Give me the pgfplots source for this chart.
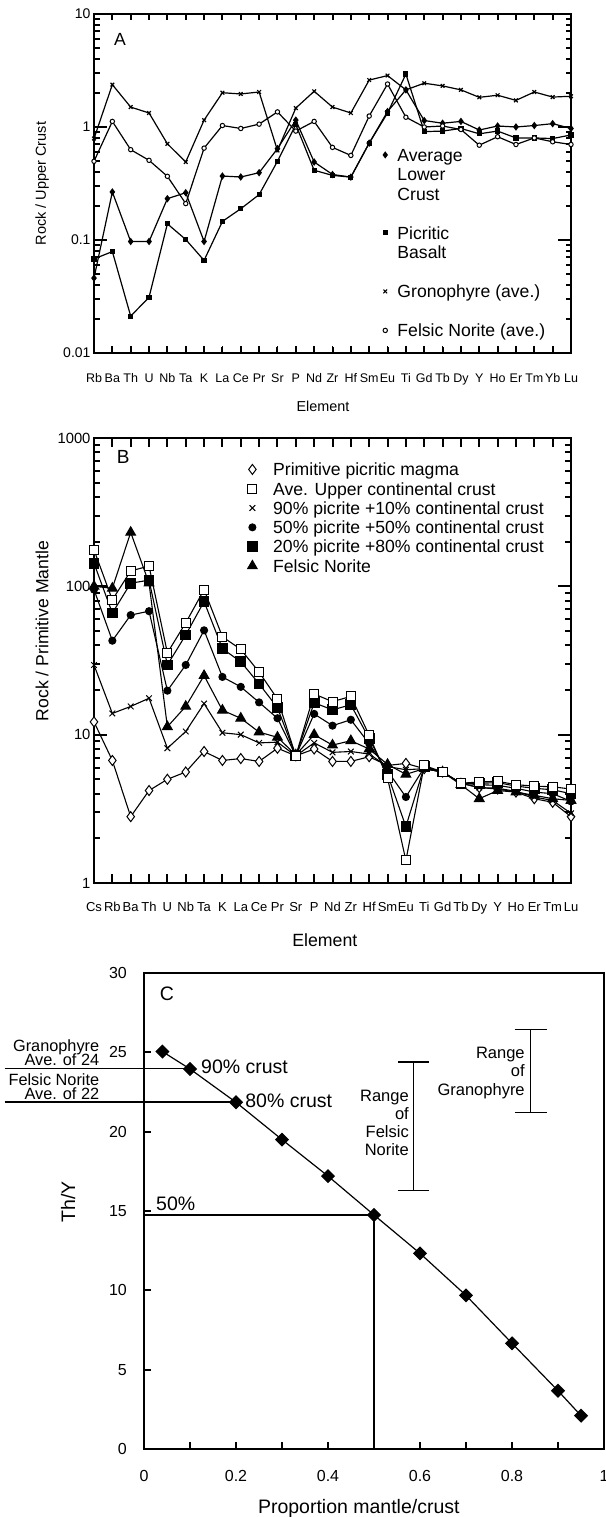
\documentclass[border=0pt]{standalone}
\usepackage{fontspec}
\setmainfont{Liberation Sans}
\usepackage{pgfplots}
\usepackage{pgfplotstable}
\pgfplotsset{compat=1.18}
\newcommand{\fs}[1]{\fontsize{#1}{#1}\selectfont}

\pgfplotstableread{
i lc pb gr fn
0 0.046 0.068 0.79 0.497
1 0.266 0.079 2.37 1.12
2 0.097 0.0212 1.50 0.63
3 0.097 0.0311 1.33 0.507
4 0.232 0.139 0.71 0.366
5 0.262 0.101 0.49 0.21
6 0.097 0.066 1.15 0.65
7 0.368 0.146 2.01 1.03
8 0.361 0.189 1.96 0.97
9 0.394 0.252 2.04 1.06
10 0.643 0.497 0.62 1.36
11 1.15 1.05 1.47 0.92
12 0.49 0.414 2.07 1.12
13 0.38 0.373 1.50 0.66
14 0.36 0.36 1.33 0.56
15 0.72 0.72 2.60 1.25
16 1.37 1.33 2.85 2.40
17 2.13 2.94 2.13 1.22
18 1.14 0.91 2.44 1.00
19 1.08 0.92 2.31 1.02
20 1.12 0.97 2.13 0.95
21 0.94 0.87 1.83 0.69
22 1.02 0.92 1.91 0.82
23 1.00 0.80 1.72 0.70
24 1.03 0.80 2.04 0.80
25 1.07 0.79 1.84 0.74
26 0.97 0.85 1.87 0.70
}\dataA

\pgfplotstableread{
i pic ucc m90 m50 m80 fn
0 12.2 176 29.5 95 143 100
1 6.7 81 13.9 43 66 97
2 2.8 127 15.5 64 105 231
3 4.2 137 17.6 68 110 105
4 5.0 35.6 8.1 19.8 29.5 11.3
5 5.6 56.7 10.5 29.5 47 15.5
6 7.7 95 16.2 50.5 79 25
7 6.7 45.7 10.3 24.5 38 14.6
8 6.9 37.6 10.0 21 31 12.9
9 6.6 26.4 8.8 16.5 22 10.4
10 8.1 17.4 8.9 12.9 15.2 9.6
11 7.2 7.2 7.2 7.2 7.2 7.3
12 8.0 18.8 8.8 13.8 16.4 10.0
13 6.6 16.7 7.6 11.5 14.7 8.5
14 6.6 18.1 7.7 12.6 15.9 9.1
15 7.1 9.9 7.4 8.7 9.4 8.0
16 6.2 5.1 6.1 5.7 5.4 6.3
17 6.4 1.42 5.8 3.8 2.4 5.4
18 5.9 6.2 5.9 6.0 6.1 5.9
19 5.6 5.6 5.6 5.6 5.6 5.6
20 4.7 4.7 4.7 4.7 4.7 4.6
21 4.4 4.8 4.4 4.6 4.7 3.7
22 4.3 4.85 4.35 4.55 4.75 4.2
23 4.1 4.6 4.15 4.35 4.5 4.1
24 3.7 4.5 3.8 4.1 4.35 3.9
25 3.5 4.45 3.6 4.0 4.25 3.7
26 2.8 4.3 2.95 3.55 4.0 3.6
}\dataB

\pgfplotstableread{
x y
0.04 25.05
0.1 23.95
0.2 21.85
0.3 19.5
0.4 17.2
0.5 14.75
0.6 12.33
0.7 9.68
0.8 6.66
0.9 3.67
0.95 2.1
}\dataC

\begin{document}
\begin{tikzpicture}
\useasboundingbox (0pt,0pt) rectangle (605pt,1517pt);

% ---------------- Panel A ----------------
\begin{axis}[
  at={(94pt,1164pt)}, anchor=south west,
  width=477pt, height=339pt, scale only axis,
  ymode=log, ymin=0.01, ymax=10, xmin=0, xmax=26, clip=false,
  xtick={0,...,26},
  xticklabels={Rb,Ba,Th,U,Nb,Ta,K,La,Ce,Pr,Sr,P,Nd,Zr,Hf,Sm,Eu,Ti,Gd,Tb,Dy,Y,Ho,Er,Tm,Yb,Lu},
  ytick={0.01,0.1,1,10}, yticklabels={0.01,0.1,1,10},
  minor ytick={0.02,0.03,0.04,0.05,0.06,0.07,0.08,0.09,0.2,0.3,0.4,0.5,0.6,0.7,0.8,0.9,2,3,4,5,6,7,8,9},
  tick align=inside,
  xtick style={/pgfplots/major tick length=6.5pt},
  ytick style={/pgfplots/major tick length=13pt},
  minor tick length=5.5pt,
  tick style={black, line width=2pt},
  xticklabel style={font=\fs{12.5}, anchor=base, yshift=-30pt},
  yticklabel style={font=\fs{14}},
  xlabel={Element}, xlabel style={font=\fs{14.4}, at={(rel axis cs:0.48,-0.156)}, anchor=center},
  ylabel={Rock / Upper Crust}, ylabel style={font=\fs{14.5}, at={(rel axis cs:-0.109,0.5)}, anchor=center},
  legend image code/.code={\draw[#1, only marks, line width=1pt] plot coordinates {(0cm,0cm)};},
  legend cell align=left,
  legend style={draw=none, fill=none, inner sep=0pt, outer sep=0pt, row sep=0pt,
    at={(0.606,0.613)}, anchor=north west,
    nodes={inner sep=0pt, font=\fs{17.6}, text height=16pt, text depth=3.5pt},
    /tikz/every odd column/.append style={column sep=10pt}},
]
\addplot[black, line width=1.6pt, line cap=rect, forget plot] coordinates {(0,0.01) (26,0.01) (26,10) (0,10) (0,0.01)};
\pgfplotsinvokeforeach{1,2,3,4,5,6,7,8,9,10,11,12,13,14,15,16,17,18,19,20,21,22,23,24,25}{
  \draw[black, line width=1.8pt] (axis cs:#1,0.01) -- ++(0pt,6.5pt);
  \draw[black, line width=1.8pt] (axis cs:#1,10) -- ++(0pt,-6.5pt);
}
\pgfplotsinvokeforeach{0.1,1}{
  \draw[black, line width=1.8pt] (axis cs:0,#1) -- ++(13pt,0pt);
  \draw[black, line width=1.8pt] (axis cs:26,#1) -- ++(-13pt,0pt);
}
\pgfplotsinvokeforeach{0.02,0.03,0.04,0.05,0.06,0.07,0.08,0.09,0.2,0.3,0.4,0.5,0.6,0.7,0.8,0.9,2,3,4,5,6,7,8,9}{
  \draw[black, line width=1.6pt] (axis cs:0,#1) -- ++(5.5pt,0pt);
  \draw[black, line width=1.6pt] (axis cs:26,#1) -- ++(-5.5pt,0pt);
}
\addplot[black, line width=1.2pt, mark=diamond*, mark size=2.8pt, mark options={solid}, forget plot] table[x=i,y=lc]{\dataA};
\addplot[black, line width=1.2pt, mark=square*, mark size=2pt, mark options={solid}, forget plot] table[x=i,y=pb]{\dataA};
\addplot[black, line width=1.2pt, mark=x, mark size=2.6pt, mark options={solid, line width=1.2pt}, forget plot] table[x=i,y=gr]{\dataA};
\addplot[black, line width=1.2pt, mark=*, mark size=2.2pt, mark options={solid, fill=white, line width=1pt}, forget plot] table[x=i,y=fn]{\dataA};
\node[font=\fs{17.6}] at (rel axis cs:0.0545,0.926) {A};
\addlegendimage{mark=diamond*, mark size=2.8pt}\addlegendentry{Average}
\addlegendimage{empty legend}\addlegendentry{Lower}
\addlegendimage{empty legend}\addlegendentry{Crust}
\addlegendimage{empty legend}\addlegendentry{~}
\addlegendimage{mark=square*, mark size=2pt}\addlegendentry{Picritic}
\addlegendimage{empty legend}\addlegendentry{Basalt}
\addlegendimage{empty legend}\addlegendentry{~}
\addlegendimage{mark=x, mark size=2.6pt}\addlegendentry{Gronophyre (ave.)}
\addlegendimage{empty legend}\addlegendentry{~}
\addlegendimage{mark=*, mark size=2.2pt, fill=white}\addlegendentry{Felsic Norite (ave.)}
\end{axis}

% ---------------- Panel B ----------------
\begin{axis}[
  at={(94pt,634pt)}, anchor=south west,
  width=477pt, height=445pt, scale only axis,
  ymode=log, ymin=1, ymax=1000, xmin=0, xmax=26, clip=false,
  xtick={0,...,26},
  xticklabels={Cs,Rb,Ba,Th,U,Nb,Ta,K,La,Ce,Pr,Sr,P,Nd,Zr,Hf,Sm,Eu,Ti,Gd,Tb,Dy,Y,Ho,Er,Tm,Lu},
  ytick={1,10,100,1000}, yticklabels={1,10,100,1000},
  minor ytick={2,3,4,5,6,7,8,9,20,30,40,50,60,70,80,90,200,300,400,500,600,700,800,900},
  tick align=inside,
  xtick style={/pgfplots/major tick length=9pt},
  ytick style={/pgfplots/major tick length=13pt},
  minor tick length=6pt,
  tick style={black, line width=2pt},
  xticklabel style={font=\fs{13}, anchor=base, yshift=-29pt},
  yticklabel style={font=\fs{14.8}},
  xlabel={Element}, xlabel style={font=\fs{17.7}, at={(rel axis cs:0.484,-0.128)}, anchor=center},
  ylabel={Rock / Primitive Mantle}, ylabel style={font=\fs{17.6}, at={(rel axis cs:-0.109,0.566)}, anchor=center},
  legend image code/.code={\draw[#1, only marks, line width=1pt] plot coordinates {(0cm,0cm)};},
  legend cell align=left,
  legend style={draw=none, fill=none, inner sep=0pt, outer sep=0pt, row sep=0pt,
    at={(0.322,0.951)}, anchor=north west,
    nodes={inner sep=0pt, font=\fs{17.6}, text height=15.95pt, text depth=3.35pt},
    /tikz/every odd column/.append style={column sep=16pt}},
]
\addplot[black, line width=1.6pt, line cap=rect, forget plot] coordinates {(0,1) (26,1) (26,1000) (0,1000) (0,1)};
\pgfplotsinvokeforeach{1,2,3,4,5,6,7,8,9,10,11,12,13,14,15,16,17,18,19,20,21,22,23,24,25}{
  \draw[black, line width=1.8pt] (axis cs:#1,1) -- ++(0pt,9pt);
  \draw[black, line width=1.8pt] (axis cs:#1,1000) -- ++(0pt,-8pt);
}
\pgfplotsinvokeforeach{10,100}{
  \draw[black, line width=1.8pt] (axis cs:0,#1) -- ++(13pt,0pt);
  \draw[black, line width=1.8pt] (axis cs:26,#1) -- ++(-13pt,0pt);
}
\pgfplotsinvokeforeach{2,3,4,5,6,7,8,9,20,30,40,50,60,70,80,90,200,300,400,500,600,700,800,900}{
  \draw[black, line width=1.6pt] (axis cs:0,#1) -- ++(6pt,0pt);
  \draw[black, line width=1.6pt] (axis cs:26,#1) -- ++(-6pt,0pt);
}
\addplot[black, line width=1.1pt, mark=diamond*, mark size=5pt, mark options={solid, fill=white, line width=1pt}, forget plot] table[x=i,y=pic]{\dataB};
\addplot[black, line width=1.1pt, mark=x, mark size=4pt, mark options={solid, line width=1pt}, forget plot] table[x=i,y=m90]{\dataB};
\addplot[black, line width=1.1pt, mark=*, mark size=3.5pt, mark options={solid}, forget plot] table[x=i,y=m50]{\dataB};
\addplot[black, line width=1.1pt, mark=triangle*, mark size=5.5pt, mark options={solid}, forget plot] table[x=i,y=fn]{\dataB};
\addplot[black, line width=1.1pt, mark=square*, mark size=4.8pt, mark options={solid}, forget plot] table[x=i,y=m80]{\dataB};
\addplot[black, line width=1.1pt, mark=square*, mark size=4.5pt, mark options={solid, fill=white, line width=1pt}, forget plot] table[x=i,y=ucc]{\dataB};
\node[font=\fs{19}] at (rel axis cs:0.061,0.957) {B};
\addlegendimage{mark=diamond*, mark size=5pt, fill=white}\addlegendentry{Primitive picritic magma}
\addlegendimage{mark=square*, mark size=4.5pt, fill=white}\addlegendentry{Ave. Upper continental crust}
\addlegendimage{mark=x, mark size=4pt}\addlegendentry{90\% picrite +10\% continental crust}
\addlegendimage{mark=*, mark size=3.5pt}\addlegendentry{50\% picrite +50\% continental crust}
\addlegendimage{mark=square*, mark size=4.8pt}\addlegendentry{20\% picrite +80\% continental crust}
\addlegendimage{mark=triangle*, mark size=5.5pt}\addlegendentry{Felsic Norite}
\end{axis}

% ---------------- Panel C ----------------
\begin{axis}[
  at={(144pt,68pt)}, anchor=south west,
  width=460pt, height=476pt, scale only axis,
  xmin=0, xmax=1, ymin=0, ymax=30, clip=false,
  xtick={0,0.2,0.4,0.6,0.8,1}, xticklabels={0,0.2,0.4,0.6,0.8,1},
  minor xtick={0.1,0.3,0.5,0.7,0.9},
  ytick={0,5,10,15,20,25,30}, yticklabels={0,5,10,15,20,25,30},
  xtick pos=left, ytick pos=left,
  tick align=inside,
  major tick length=7pt, minor tick length=7pt,
  tick style={black, line width=2pt},
  xticklabel style={font=\fs{16}, anchor=base, yshift=-32pt},
  yticklabel style={font=\fs{16}, anchor=east, inner sep=0pt, xshift=-17pt},
  xlabel={Proportion mantle/crust}, xlabel style={font=\fs{19.5}, at={(rel axis cs:0.467,-0.124)}, anchor=center},
  ylabel={Th/Y}, ylabel style={font=\fs{19.5}, at={(rel axis cs:-0.165,0.519)}, anchor=center},
]
\addplot[black, line width=1.6pt, line cap=rect] coordinates {(0,0) (1,0) (1,30) (0,30) (0,0)};
\pgfplotsinvokeforeach{0.1,0.2,0.3,0.4,0.6,0.7,0.8,0.9}{
  \draw[black, line width=1.8pt] (axis cs:#1,0) -- ++(0pt,7pt);
}
\pgfplotsinvokeforeach{5,10,15,20,25}{
  \draw[black, line width=1.8pt] (axis cs:0,#1) -- ++(7pt,0pt);
}
\addplot[black, line width=1.2pt] coordinates {(-0.303,23.96) (0.1,23.96)};
\addplot[black, line width=1.8pt] coordinates {(-0.303,21.85) (0.2,21.85)};
\addplot[black, line width=1.3pt] coordinates {(0,14.75) (0.5,14.75) (0.5,0)};
\addplot[black, line width=1.3pt] coordinates {(0.552,24.4) (0.620,24.4)};
\addplot[black, line width=1.2pt] coordinates {(0.586,24.4) (0.586,16.3)};
\addplot[black, line width=1.3pt] coordinates {(0.552,16.3) (0.620,16.3)};
\addplot[black, line width=1.3pt] coordinates {(0.806,26.45) (0.875,26.45)};
\addplot[black, line width=1.2pt] coordinates {(0.84,26.45) (0.84,21.2)};
\addplot[black, line width=1.3pt] coordinates {(0.806,21.2) (0.875,21.2)};
\addplot[black, line width=1.2pt, mark=square*, mark size=4.4pt, mark options={solid, rotate=45}] table[x=x,y=y]{\dataC};
\node[font=\fs{19.5}, anchor=base, inner sep=0pt] at (axis cs:0.05,28.26) {C};
\node[font=\fs{19.5}, anchor=base west, inner sep=0pt] at (axis cs:0.124,23.66) {90\% crust};
\node[font=\fs{19.5}, anchor=base west, inner sep=0pt] at (axis cs:0.22,21.51) {80\% crust};
\node[font=\fs{19.5}, anchor=base west, inner sep=0pt] at (axis cs:0.026,15.06) {50\%};
\node[font=\fs{16.5}, anchor=base east, inner sep=0pt] at (axis cs:0.576,21.93) {Range};
\node[font=\fs{16.5}, anchor=base east, inner sep=0pt] at (axis cs:0.576,20.78) {of};
\node[font=\fs{16.5}, anchor=base east, inner sep=0pt] at (axis cs:0.576,19.63) {Felsic};
\node[font=\fs{16.5}, anchor=base east, inner sep=0pt] at (axis cs:0.576,18.48) {Norite};
\node[font=\fs{16.5}, anchor=base east, inner sep=0pt] at (axis cs:0.828,24.6) {Range};
\node[font=\fs{16.5}, anchor=base east, inner sep=0pt] at (axis cs:0.828,23.45) {of};
\node[font=\fs{16.5}, anchor=base east, inner sep=0pt] at (axis cs:0.828,22.3) {Granophyre};
\node[font=\fs{16.3}, anchor=base east, inner sep=0pt] at (axis cs:-0.097,25.03) {Granophyre};
\node[font=\fs{16.3}, anchor=base east, inner sep=0pt] at (axis cs:-0.097,24.18) {Ave. of 24};
\node[font=\fs{16.3}, anchor=base east, inner sep=0pt] at (axis cs:-0.097,22.88) {Felsic Norite};
\node[font=\fs{16.3}, anchor=base east, inner sep=0pt] at (axis cs:-0.097,22.04) {Ave. of 22};
\end{axis}
\end{tikzpicture}
\end{document}
